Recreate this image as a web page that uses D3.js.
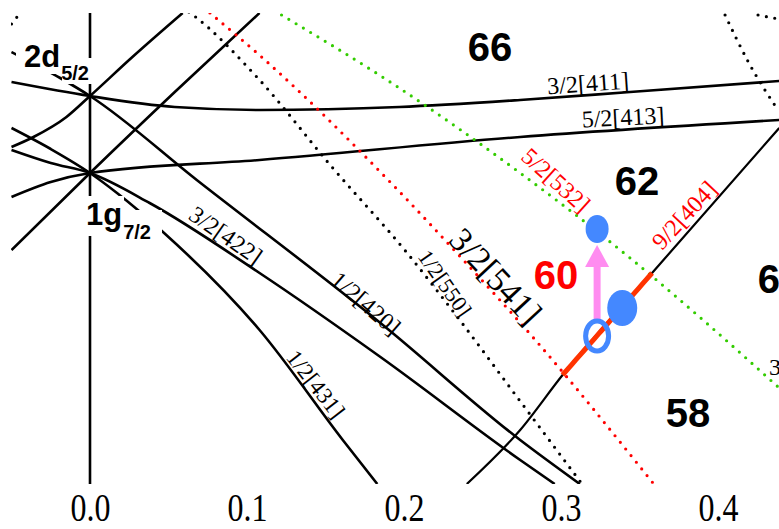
<!DOCTYPE html>
<html><head><meta charset="utf-8">
<script src="https://cdn.jsdelivr.net/npm/d3@7"></script>
<style>body{margin:0;background:#fff}svg{display:block}</style>
</head><body>
<svg id="chart" width="779" height="529"></svg>
<script>
// Deformation axis ticks
const epsTicks = [0.0, 0.1, 0.2, 0.3, 0.4];

// Single-particle levels, each as [deformation ε, energy] pairs
const lvl_32_411 = [[-0.050,40.2],[0,38.8],[0.054,37.7],[0.108,37.4],[0.197,37.7],[0.274,38.4],[0.344,39.2],[0.439,40.3]];
const lvl_52_413 = [[-0.050,28.7],[-0.025,30.2],[0,31.1],[0.108,32.4],[0.274,34.7],[0.439,36.4]];
const lvl_52_402 = [[-0.050,33.7],[-0.036,34.7],[-0.015,36.7],[0,38.8],[0.027,42.7],[0.059,47.1]];
const lvl_12_420 = [[-0.050,43.2],[-0.019,40.6],[0,38.8],[0.068,30.4],[0.185,16.1],[0.274,4.4],[0.312,0]];
const lvl_72_404 = [[-0.050,23.4],[0,31.1],[0.054,39.2],[0.108,47.1]];
const lvl_32_422 = [[-0.050,33.4],[-0.025,32.1],[0,31.1],[0.038,28.1],[0.108,21.1],[0.185,12.7],[0.274,2.4],[0.296,0]];
const lvl_12_431 = [[-0.050,35.6],[-0.025,33.5],[0,31.1],[0.0172,29.1],[0.0465,25.2],[0.108,15.4],[0.161,4.4],[0.183,0]];
const lvl_92_404 = [[0.240,0],[0.274,5.4],[0.301,10.9],[0.358,21.1],[0.439,35.6]];
const lvl_12_550 = [[0.063,47.2],[0.0656,46.9],[0.108,40.4],[0.153,31.9],[0.202,23.1],[0.234,16.7],[0.272,8.7],[0.3134,0]];
const lvl_32_541 = [[0.0764,47.1],[0.110,42.6],[0.193,29.9],[0.236,22.7],[0.282,14.7],[0.3586,0.1]];
const lvl_52_532 = [[0.122,46.9],[0.197,39.6],[0.274,31.1],[0.344,22.6],[0.389,16.6],[0.439,9.6]];
const lvl_dot_a  = [[0.4045,46.9],[0.4197,42.1],[0.4382,37.4]];
const lvl_dot_b  = [[0.4255,46.9],[0.4318,46.7],[0.4389,46.5]];
const lvl_dot_c  = [[-0.050,46.0],[-0.045,47.0]];

// Highlighted stretch of the 9/2[404] level
const bandEps = [0.301, 0.358];
// Observed states: [ε, E]
const openState   = [0.323, 14.8];
const filledRight = [0.339, 17.6];
const filledTop   = [0.323, 25.5];
const arrowFrom   = [0.323, 16.2];
const arrowTo     = [0.323, 23.9];

// Shell-gap particle numbers
const gapNumbers = [
  {t:"66", e:0.2548, E:42.3, c:"#000"},
  {t:"62", e:0.3484, E:28.9, c:"#000"},
  {t:"60", e:0.2968, E:19.5, c:"#ff0000"},
  {t:"58", e:0.3809, E:5.7,  c:"#000"},
  {t:"60", e:0.4395, E:19.1, c:"#000"}
];

const W = 779, H = 529;
const x = d3.scaleLinear().domain([0, 0.4]).range([90, 718]);
const y = d3.scaleLinear().domain([0, 47.1]).range([484, 13]);

const svg = d3.select("#chart");
svg.append("defs").append("clipPath").attr("id","plot")
  .append("rect").attr("x",11).attr("y",13).attr("width",W-11).attr("height",471);

const line = d3.line().x(d => x(d[0])).y(d => y(d[1])).curve(d3.curveMonotoneX);
const g = svg.append("g").attr("clip-path","url(#plot)");

// vertical line at spherical shape
g.append("line").attr("x1",x(0)).attr("x2",x(0)).attr("y1",13).attr("y2",484)
  .attr("stroke","#000").attr("stroke-width",2.6);

const solid = [lvl_32_411, lvl_52_413, lvl_52_402, lvl_12_420, lvl_72_404, lvl_32_422, lvl_12_431];
solid.forEach(d => g.append("path").attr("d", line(d)).attr("fill","none")
  .attr("stroke","#000").attr("stroke-width",2.6));
g.append("path").attr("d", line(lvl_92_404)).attr("fill","none")
  .attr("stroke","#000").attr("stroke-width",2.2);

const dotted = [[lvl_12_550,"#000"],[lvl_32_541,"#ff0000"],[lvl_52_532,"#33cc00"],
                [lvl_dot_a,"#000"],[lvl_dot_b,"#000"],[lvl_dot_c,"#000"]];
dotted.forEach(([d,c]) => g.append("path").attr("d", line(d)).attr("fill","none")
  .attr("stroke",c).attr("stroke-width",3.2).attr("stroke-linecap","round")
  .attr("stroke-dasharray","0 8.5"));

// highlighted portion of 9/2[404]
const interp = d3.scaleLinear().domain(lvl_92_404.map(d=>d[0])).range(lvl_92_404.map(d=>d[1]));
const band = d3.range(bandEps[0], bandEps[1]+1e-9, (bandEps[1]-bandEps[0])/10).map(e => [e, interp(e)]);
g.append("path").attr("d", line(band)).attr("fill","none")
  .attr("stroke","#ff3300").attr("stroke-width",5);

// spherical-shell labels on white patches
const masks = [[16,38,46,36],[62,58,34,26],[84,196,40,40],[122,210,40,36]];
masks.forEach(([mx,my,mw,mh]) => svg.append("rect").attr("x",mx).attr("y",my)
  .attr("width",mw).attr("height",mh).attr("fill","#fff"));
function shellLabel(main, sub, px, py, subDy) {
  const t = svg.append("text").attr("x",px).attr("y",py)
    .attr("font-family","Liberation Sans, Arial, sans-serif").attr("font-weight","bold")
    .attr("fill","#000");
  t.append("tspan").attr("font-size",31).text(main);
  t.append("tspan").attr("font-size",20).attr("dx",1).attr("dy",subDy).text(sub);
}
shellLabel("2d","5/2",24,67,13);
shellLabel("1g","7/2",86,225,14);

// Nilsson labels
const labels = [
  {t:"3/2[411]", px:588, py:83, r:-4, s:24, c:"#000"},
  {t:"5/2[413]", px:623, py:117, r:-3, s:24, c:"#000"},
  {t:"3/2[422]", px:226, py:235, r:35, s:24, c:"#000"},
  {t:"1/2[420]", px:366, py:303, r:41, s:24, c:"#000"},
  {t:"1/2[431]", px:316, py:384, r:52, s:23, c:"#000"},
  {t:"1/2[550]", px:445, py:283, r:55, s:22, c:"#000"},
  {t:"3/2[541]", px:496, py:276, r:47, s:34, c:"#000"},
  {t:"5/2[532]", px:556, py:180, r:42, s:24, c:"#ff0000"},
  {t:"9/2[404]", px:684, py:215, r:-47, s:24, c:"#ff0000"},
  {t:"3/2", px:779, py:367, r:0, s:24, c:"#000", a:"start", dx:-10}
];
labels.forEach(l => svg.append("text")
  .attr("transform",`translate(${l.px},${l.py}) rotate(${l.r})`)
  .attr("text-anchor", l.a || "middle").attr("dx", l.dx || 0).attr("dy","0.35em")
  .attr("font-family","Liberation Serif, Times New Roman, serif")
  .attr("font-size",l.s).attr("fill",l.c).text(l.t));

// gap numbers
svg.selectAll("text.gap").data(gapNumbers).join("text").attr("class","gap")
  .attr("x", d => x(d.e)).attr("y", d => y(d.E))
  .attr("text-anchor","middle")
  .attr("font-family","Liberation Sans, Arial, sans-serif").attr("font-weight","bold")
  .attr("font-size",40).attr("fill", d => d.c).text(d => d.t);

// pink arrow
const ax = x(arrowFrom[0]), tipY = y(arrowTo[1]);
svg.append("line").attr("x1",ax).attr("x2",ax).attr("y1",y(arrowFrom[1])).attr("y2",tipY + 20)
  .attr("stroke","#ff8cf0").attr("stroke-width",7);
svg.append("path").attr("d", `M${ax},${tipY} L${ax-12},${tipY+22} L${ax+12},${tipY+22} Z`)
  .attr("fill","#ff8cf0");

// states
svg.append("ellipse").attr("cx",x(filledTop[0])).attr("cy",y(filledTop[1])).attr("rx",11.5).attr("ry",14).attr("fill","#4488ff");
svg.append("ellipse").attr("cx",x(filledRight[0])).attr("cy",y(filledRight[1])).attr("rx",15).attr("ry",18).attr("fill","#4488ff");
svg.append("ellipse").attr("cx",x(openState[0])).attr("cy",y(openState[1])).attr("rx",11.5).attr("ry",15)
  .attr("fill","none").attr("stroke","#4488ff").attr("stroke-width",5);

// deformation axis labels
const axis = d3.axisBottom(x).tickValues(epsTicks).tickFormat(d3.format(".1f")).tickSize(0).tickPadding(0);
const ag = svg.append("g").attr("transform","translate(0,521)").call(axis);
ag.select(".domain").remove();
ag.selectAll("text").attr("font-family","Liberation Serif, Times New Roman, serif")
  .attr("font-size",32).attr("fill","#000").attr("y",0).attr("dy",0)
  .attr("transform","scale(1,1.26)");
</script>
</body></html>
